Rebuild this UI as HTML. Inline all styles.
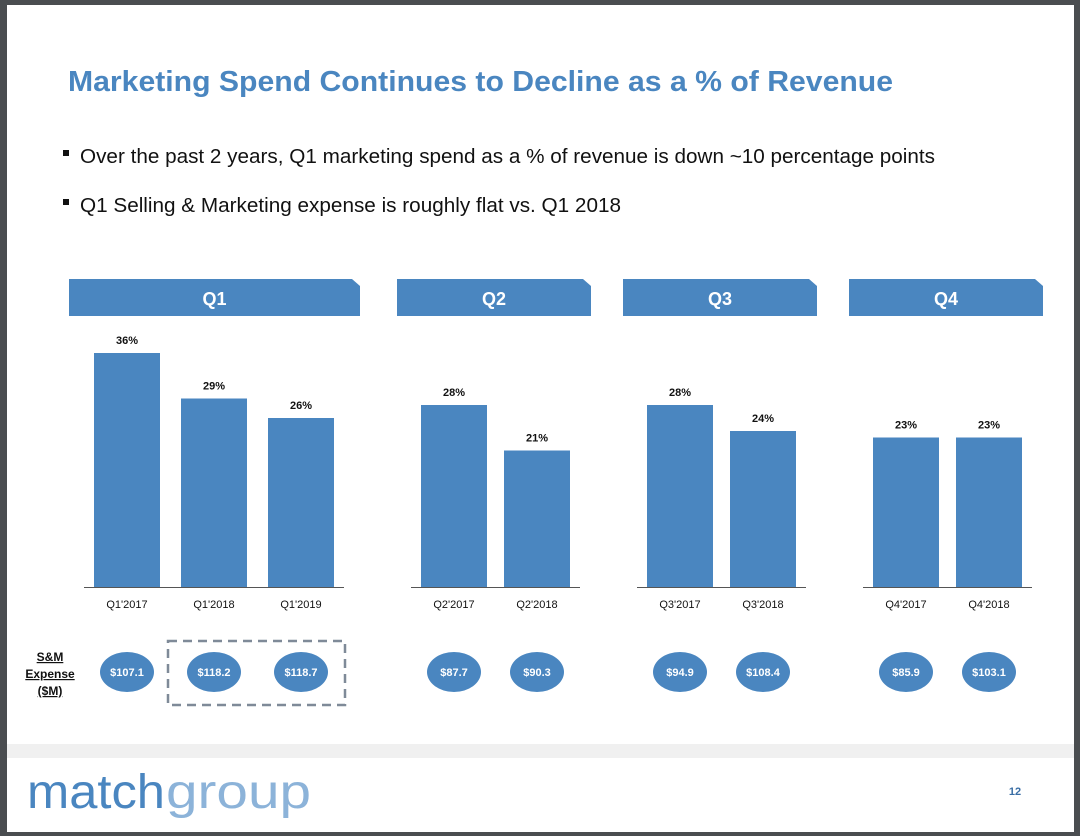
<!DOCTYPE html>
<html><head><meta charset="utf-8"><style>
html,body{margin:0;padding:0;background:#4a4d50;}
svg{display:block;font-family:"Liberation Sans",sans-serif;}
</style></head><body>
<svg id="c" width="1080" height="836" viewBox="0 0 1080 836">
<rect x="7" y="5" width="1067" height="827" fill="#ffffff"/>
<rect x="7" y="744" width="1067" height="14" fill="#f0f0f0"/>
<text x="68" y="91" font-size="29" font-weight="bold" fill="#4a86c0" textLength="825" lengthAdjust="spacingAndGlyphs">Marketing Spend Continues to Decline as a % of Revenue</text>
<rect x="63" y="150" width="6" height="6" fill="#111"/>
<text x="80" y="163" font-size="20" fill="#111" textLength="855" lengthAdjust="spacingAndGlyphs">Over the past 2 years, Q1 marketing spend as a % of revenue is down ~10 percentage points</text>
<rect x="63" y="199" width="6" height="6" fill="#111"/>
<text x="80" y="212" font-size="20" fill="#111" textLength="541" lengthAdjust="spacingAndGlyphs">Q1 Selling &amp; Marketing expense is roughly flat vs. Q1 2018</text>
<g id="chart"></g>
<text x="50" y="661" font-size="12" font-weight="bold" text-anchor="middle" fill="#111" text-decoration="underline">S&amp;M</text>
<text x="50" y="678" font-size="12" font-weight="bold" text-anchor="middle" fill="#111" text-decoration="underline">Expense</text>
<text x="50" y="695" font-size="12" font-weight="bold" text-anchor="middle" fill="#111" text-decoration="underline">($M)</text>
<rect x="168" y="641" width="177" height="64" fill="none" stroke="#7f8a98" stroke-width="2.5" stroke-dasharray="9,6"/>
<text x="27" y="808" font-size="48" fill="#4a86c0" textLength="138" lengthAdjust="spacingAndGlyphs">match</text>
<text x="166" y="808" font-size="48" fill="#8cb3d9" textLength="145" lengthAdjust="spacingAndGlyphs">group</text>
<text x="1015" y="795" font-size="11" font-weight="bold" fill="#3a6ea5" text-anchor="middle">12</text>
</svg>
<script>
const groups = ["Q1","Q2","Q3","Q4"];
const categories = ["Q1'2017","Q1'2018","Q1'2019","Q2'2017","Q2'2018","Q3'2017","Q3'2018","Q4'2017","Q4'2018"];
const categoryGroup = [0,0,0,1,1,2,2,3,3];
const pctValues = [36,29,26,28,21,28,24,23,23];
const expenseValues = [107.1,118.2,118.7,87.7,90.3,94.9,108.4,85.9,103.1];

const NS="http://www.w3.org/2000/svg";
const g=document.getElementById('chart');
const baseY=587, pxPer=6.5, barW=66;
const groupHeaderX=[69,397,623,849], groupHeaderW=[291,194,194,194];
const groupFirstBarX=[94,421,647,873], groupStep=[87,83,83,83];
function yScale(v){return baseY-v*pxPer;}
function el(t,a){const e=document.createElementNS(NS,t);for(const k in a)e.setAttribute(k,a[k]);g.appendChild(e);return e;}
const counter=[0,0,0,0];
groups.forEach((q,gi)=>{
  const x=groupHeaderX[gi], w=groupHeaderW[gi];
  const h=el('polygon',{points:`${x},279 ${x+w-8},279 ${x+w},286 ${x+w},316 ${x},316`,fill:'#4a86c0'});
  
  
  const t=el('text',{x:x+w/2,y:305,'font-size':18,'font-weight':'bold',fill:'#fff','text-anchor':'middle'});t.textContent=q;
  
  
  const n=categoryGroup.filter(c=>c===gi).length;
  const bx0=groupFirstBarX[gi]-10, bx1=groupFirstBarX[gi]+(n-1)*groupStep[gi]+barW+10;
  const ax=el('line',{x1:bx0,x2:bx1,y1:baseY+0.5,y2:baseY+0.5,stroke:'#555','stroke-width':1});
  
  
});
categories.forEach((c,i)=>{
  const gi=categoryGroup[i];
  const x=groupFirstBarX[gi]+counter[gi]*groupStep[gi]; counter[gi]++;
  const cx=x+barW/2, y=yScale(pctValues[i]);
  const b=el('rect',{x:x,y:y,width:barW,height:baseY-y,fill:'#4a86c0'});
  
  
  const vl=el('text',{x:cx,y:y-9,'font-size':11,'font-weight':'bold',fill:'#111','text-anchor':'middle'});vl.textContent=pctValues[i]+'%';
  
  
  const cl=el('text',{x:cx,y:608,'font-size':11,fill:'#111','text-anchor':'middle'});cl.textContent=c;
  
  
  const e=el('ellipse',{cx:cx,cy:672,rx:27,ry:20,fill:'#4a86c0'});
  
  
  const et=el('text',{x:cx,y:676,'font-size':11,'font-weight':'bold',fill:'#fff','text-anchor':'middle'});et.textContent='$'+expenseValues[i].toFixed(1);
  
  
});
</script>
</body></html>
